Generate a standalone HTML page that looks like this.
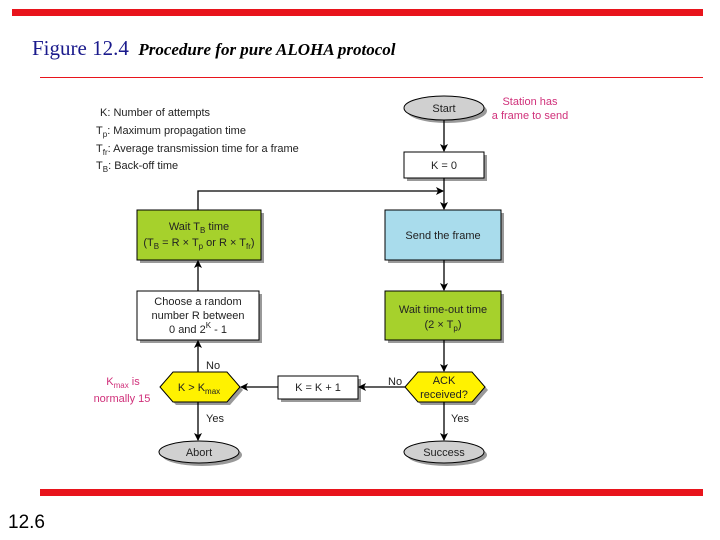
<!DOCTYPE html>
<html><head><meta charset="utf-8"><style>
body{margin:0;width:720px;height:540px;background:#fff;position:relative;overflow:hidden;font-family:"Liberation Sans",sans-serif}
.t{position:absolute;font-family:"Liberation Serif",serif;color:#1a1a8c}
</style></head><body>
<div style="position:absolute;left:12px;top:9px;width:691px;height:7px;background:#e8141c"></div>
<div class="t" style="left:32px;top:36px;font-size:21px">Figure 12.4 <i style="font-size:17px;color:#000;font-weight:bold;font-family:'Liberation Serif',serif">&nbsp;Procedure for pure ALOHA protocol</i></div>
<div style="position:absolute;left:40px;top:77px;width:663px;height:1px;background:#e8141c"></div>
<div style="position:absolute;left:40px;top:489px;width:663px;height:7px;background:#e8141c"></div>
<div style="position:absolute;left:8px;top:512px;font-size:19px">12.6</div>
<svg width="720" height="540" style="position:absolute;left:0;top:0" font-family="Liberation Sans,sans-serif" font-size="11">
<defs><marker id="a" markerWidth="8" markerHeight="8" refX="7" refY="4" orient="auto" markerUnits="userSpaceOnUse"><path d="M0,0 L8,4 L0,8 L2,4z" fill="#000"/></marker></defs>
<g fill="#999">
<ellipse cx="447" cy="111" rx="40" ry="12"/>
<rect x="407" y="155" width="80" height="26"/>
<rect x="140" y="213" width="124" height="50"/>
<rect x="388" y="213" width="116" height="50"/>
<rect x="140" y="294" width="122" height="49"/>
<rect x="388" y="294" width="116" height="49"/>
<rect x="281" y="379" width="80" height="23"/>
<polygon points="163,390 176,375 230,375 243,390 230,405 176,405"/>
<polygon points="408,390 421,375 475,375 488,390 475,405 421,405"/>
<ellipse cx="202" cy="455" rx="40" ry="11"/>
<ellipse cx="447" cy="455" rx="40" ry="11"/>
</g>
<g stroke="#000" stroke-width="1">
<ellipse cx="444" cy="108" rx="40" ry="12" fill="#d0d0d0"/>
<rect x="404" y="152" width="80" height="26" fill="#fff"/>
<rect x="137" y="210" width="124" height="50" fill="#a6d12c"/>
<rect x="385" y="210" width="116" height="50" fill="#a9dcec"/>
<rect x="137" y="291" width="122" height="49" fill="#fff"/>
<rect x="385" y="291" width="116" height="49" fill="#a6d12c"/>
<rect x="278" y="376" width="80" height="23" fill="#fff"/>
<polygon points="160,387 173,372 227,372 240,387 227,402 173,402" fill="#fff200"/>
<polygon points="405,387 418,372 472,372 485,387 472,402 418,402" fill="#fff200"/>
<ellipse cx="199" cy="452" rx="40" ry="11" fill="#d0d0d0"/>
<ellipse cx="444" cy="452" rx="40" ry="11" fill="#d0d0d0"/>
</g>
<g stroke="#000" stroke-width="1.3" fill="none">
<line x1="444" y1="120" x2="444" y2="151" marker-end="url(#a)"/>
<line x1="444" y1="178" x2="444" y2="209" marker-end="url(#a)"/>
<polyline points="198,210 198,191 443,191" marker-end="url(#a)"/>
<line x1="444" y1="260" x2="444" y2="290" marker-end="url(#a)"/>
<line x1="444" y1="340" x2="444" y2="371" marker-end="url(#a)"/>
<line x1="444" y1="402" x2="444" y2="440" marker-end="url(#a)"/>
<line x1="198" y1="291" x2="198" y2="261" marker-end="url(#a)"/>
<line x1="198" y1="372" x2="198" y2="341" marker-end="url(#a)"/>
<line x1="198" y1="402" x2="198" y2="440" marker-end="url(#a)"/>
<line x1="405" y1="387" x2="359" y2="387" marker-end="url(#a)"/>
<line x1="278" y1="387" x2="241" y2="387" marker-end="url(#a)"/>
</g>
<g fill="#222" text-anchor="middle">
<text x="444" y="112">Start</text>
<text x="444" y="169">K = 0</text>
<text x="199" y="230">Wait T<tspan font-size="8" dy="3">B</tspan><tspan dy="-3"> time</tspan></text>
<text x="199" y="246">(T<tspan font-size="8" dy="3">B</tspan><tspan dy="-3"> = R × T</tspan><tspan font-size="8" dy="3">p</tspan><tspan dy="-3"> or R × T</tspan><tspan font-size="8" dy="3">fr</tspan><tspan dy="-3">)</tspan></text>
<text x="443" y="239">Send the frame</text>
<text x="198" y="305">Choose a random</text>
<text x="198" y="319">number R between</text>
<text x="198" y="333">0 and 2<tspan font-size="8" dy="-5">K</tspan><tspan dy="5"> - 1</tspan></text>
<text x="443" y="313">Wait time-out time</text>
<text x="443" y="328">(2 × T<tspan font-size="8" dy="3">p</tspan><tspan dy="-3">)</tspan></text>
<text x="318" y="391">K = K + 1</text>
<text x="199" y="391">K &gt; K<tspan font-size="8" dy="3">max</tspan></text>
<text x="444" y="384">ACK</text>
<text x="444" y="398">received?</text>
<text x="199" y="456">Abort</text>
<text x="444" y="456">Success</text>
</g>
<g fill="#222">
<text x="206" y="369">No</text>
<text x="206" y="422">Yes</text>
<text x="388" y="385">No</text>
<text x="451" y="422">Yes</text>
<text x="100" y="116">K: Number of attempts</text>
<text x="96" y="134">T<tspan font-size="8" dy="3">p</tspan><tspan dy="-3">: Maximum propagation time</tspan></text>
<text x="96" y="152">T<tspan font-size="8" dy="3">fr</tspan><tspan dy="-3">: Average transmission time for a frame</tspan></text>
<text x="96" y="169">T<tspan font-size="8" dy="3">B</tspan><tspan dy="-3">: Back-off time</tspan></text>
</g>
<g fill="#d0307a" text-anchor="middle">
<text x="530" y="105">Station has</text>
<text x="530" y="119">a frame to send</text>
<text x="123" y="385">K<tspan font-size="8" dy="3">max</tspan><tspan dy="-3"> is</tspan></text>
<text x="122" y="402">normally 15</text>
</g>
</svg>
</body></html>
